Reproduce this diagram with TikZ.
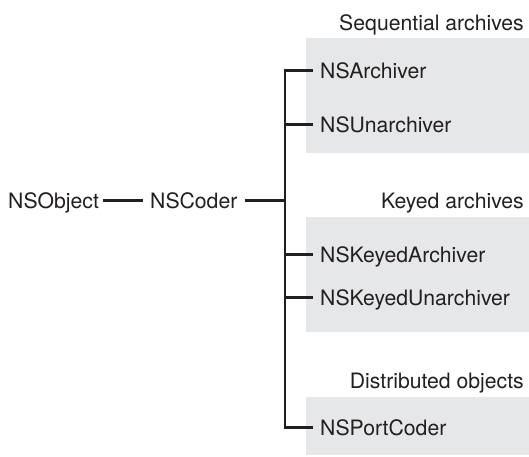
\documentclass[tikz,border=0pt]{standalone}
\usepackage{fontspec}
\setmainfont{TeX Gyre Heros}
\definecolor{txt}{HTML}{231F20}
\definecolor{boxgray}{HTML}{E6E7E8}
\tikzset{
  x=1pt, y=-1pt,
  cls/.style={font=\fontsize{21.2}{24}\selectfont, text=txt, text height=15pt, text depth=0pt, inner ysep=0pt, inner xsep=4pt},
  child/.style={cls, anchor=west, inner xsep=7pt},
  grp/.style={cls, anchor=east, inner xsep=0pt},
  link/.style={draw=txt, line width=2.3pt},
  panel/.style={fill=boxgray, draw=none}
}
\begin{document}
\begin{tikzpicture}
\useasboundingbox (0,0) rectangle (529,456);
\fill[panel] (306,38) rectangle (529,153);
\fill[panel] (306,217) rectangle (529,332);
\fill[panel] (306,397) rectangle (529,455);

\node[grp] (g1) at (524,22.5) {Sequential archives};
\node[grp] (g2) at (524,201) {Keyed archives};
\node[grp] (g3) at (524,380.5) {Distributed objects};

\node[cls, anchor=west] (obj) at (4,200.5) {NSObject};
\node[cls, anchor=west, inner xsep=7pt] (coder) at (143,200.5) {NSCoder};
\coordinate (trunk) at (285,200.5);

\node[child] (a1) at (313,70.5) {NSArchiver};
\node[child] (a2) at (313,124.5) {NSUnarchiver};
\node[child] (k1) at (313,254.5) {NSKeyedArchiver};
\node[child] (k2) at (313,297.5) {NSKeyedUnarchiver};
\node[child] (p1) at (313,427.5) {NSPortCoder};

\draw[link] (obj.east) -- (coder.west);
\draw[link] (coder.east) -- (trunk);
\draw[link] (a1.west) -- (trunk |- a1.west) -- (trunk |- p1.west) -- (p1.west);
\draw[link] (trunk |- a2.west) -- (a2.west);
\draw[link] (trunk |- k1.west) -- (k1.west);
\draw[link] (trunk |- k2.west) -- (k2.west);
\end{tikzpicture}
\end{document}
